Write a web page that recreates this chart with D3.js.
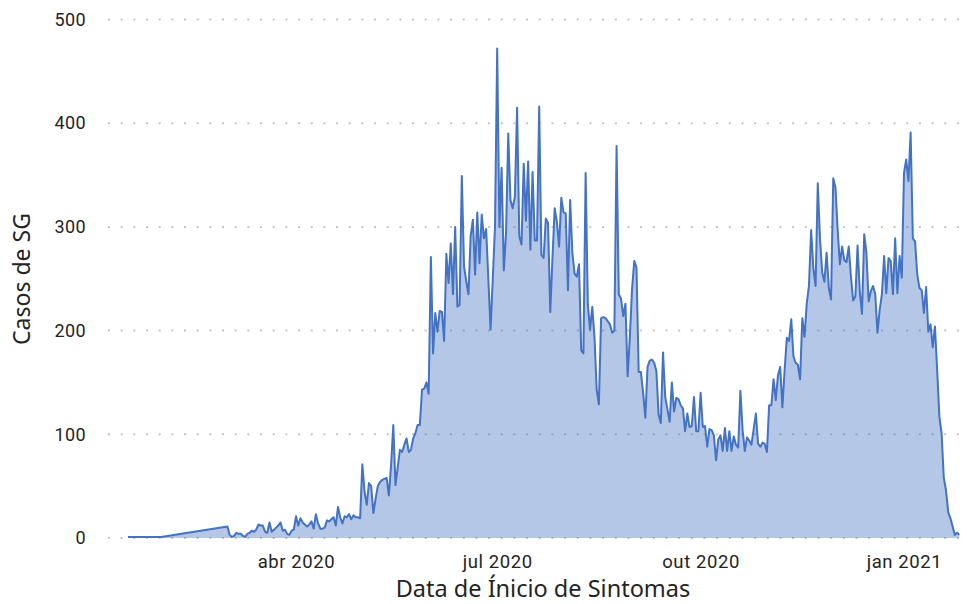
<!DOCTYPE html>
<html>
<head>
<meta charset="utf-8">
<script src="https://cdn.jsdelivr.net/npm/d3@7"></script>
<style>
  html, body { margin: 0; padding: 0; background: #fff; }
  svg { display: block; }
</style>
</head>
<body>
<svg id="chart" width="967" height="604"></svg>
<script>
// ---- Data ----
const earlyDates = ["2020-01-16", "2020-01-24", "2020-01-31"];
const earlyValues = [1, 1, 1];
const dailyStart = "2020-03-01";
const dailyValues = [
  11, 3, 1, 2, 5, 4, 4, 2, 1, 4, 5, 7, 6, 8, 13, 12, 12, 6, 5, 15,
  6, 8, 10, 12, 15, 7, 8, 4, 3, 7, 8, 21, 12, 19, 15, 13, 11, 13, 16, 9,
  23, 14, 9, 9, 10, 17, 16, 18, 20, 12, 30, 20, 14, 21, 20, 23, 18, 22, 20, 20,
  19, 71, 45, 32, 53, 50, 24, 38, 50, 54, 56, 57, 58, 41, 70, 109, 51, 68, 85, 83,
  90, 96, 83, 85, 96, 101, 109, 109, 143, 144, 150, 139, 271, 178, 217, 199, 219, 218, 190, 274,
  246, 284, 235, 300, 223, 225, 349, 262, 248, 235, 291, 307, 254, 314, 265, 312, 289, 298, 250, 201,
  250, 300, 472, 300, 357, 258, 294, 390, 326, 318, 329, 415, 291, 283, 361, 306, 363, 278, 353, 287,
  287, 416, 273, 270, 308, 304, 218, 270, 318, 305, 281, 328, 314, 313, 239, 326, 275, 255, 252, 264,
  181, 178, 352, 225, 201, 223, 194, 143, 129, 212, 213, 212, 209, 206, 198, 200, 378, 235, 231, 214,
  226, 156, 194, 240, 267, 261, 160, 160, 140, 116, 165, 171, 172, 169, 161, 119, 111, 179, 136, 124,
  112, 150, 122, 135, 134, 128, 125, 103, 120, 107, 108, 136, 103, 103, 140, 107, 108, 88, 105, 104,
  99, 75, 95, 99, 84, 106, 84, 103, 84, 98, 90, 87, 142, 104, 84, 97, 94, 90, 105, 120,
  91, 88, 92, 91, 83, 128, 128, 153, 133, 157, 165, 126, 162, 193, 190, 211, 175, 169, 167, 153,
  212, 194, 226, 243, 297, 260, 243, 342, 289, 256, 247, 275, 241, 230, 347, 338, 297, 264, 281, 268,
  266, 281, 252, 229, 233, 282, 238, 216, 293, 275, 228, 238, 243, 235, 198, 220, 235, 272, 236, 270,
  267, 235, 289, 236, 272, 251, 352, 365, 344, 391, 289, 286, 254, 241, 239, 217, 242, 199, 206, 184,
  204, 162, 117, 101, 58, 46, 25, 19, 11, 3, 5, 3
];
const yTicks = [0, 100, 200, 300, 400, 500];
const xTickDates = ["2020-04-01", "2020-07-01", "2020-10-01", "2021-01-01"];
const xTickLabels = ["abr 2020", "jul 2020", "out 2020", "jan 2021"];
const xTitle = "Data de Ínicio de Sintomas";
const yTitle = "Casos de SG";

// ---- Build series ----
const parse = d3.utcParse("%Y-%m-%d");
const series = [];
earlyDates.forEach((d, i) => series.push({ date: parse(d), value: earlyValues[i] }));
const start = parse(dailyStart);
dailyValues.forEach((v, i) => series.push({ date: d3.utcDay.offset(start, i), value: v }));

// ---- Layout ----
const svg = d3.select("#chart");
const gridLeft = 108, gridRight = 960;
const pxPerDay = (904 - 296) / 275;
const xStartDate = parse("2020-01-05");
const xEndDate = parse("2021-01-28");
const xStartPx = 296 - d3.utcDay.count(xStartDate, parse("2020-04-01")) * pxPerDay;
const xEndPx = 296 + d3.utcDay.count(parse("2020-04-01"), xEndDate) * pxPerDay;

const x = d3.scaleUtc().domain([xStartDate, xEndDate]).range([xStartPx, xEndPx]);
const y = d3.scaleLinear().domain([0, 500]).range([538, 19.5]);

const fontTick = "Roboto, 'Noto Sans', sans-serif";
const fontTitle = "'Noto Sans', 'Open Sans', sans-serif";

// gridlines
svg.append("g").selectAll("line").data(yTicks).join("line")
  .attr("x1", gridLeft).attr("x2", gridRight)
  .attr("y1", d => y(d)).attr("y2", d => y(d))
  .attr("stroke", "#c4c4c4").attr("stroke-width", 2)
  .attr("stroke-dasharray", "2 10.67");

// y axis labels
const yAxis = d3.axisLeft(y).tickValues(yTicks).tickSize(0).tickPadding(0);
const gy = svg.append("g").attr("transform", "translate(86,0)").call(yAxis);
gy.select(".domain").remove();
gy.selectAll("text").attr("font-family", fontTick).attr("font-size", 18)
  .attr("letter-spacing", 0.4).attr("fill", "#252423");

// x axis labels
const xAxis = d3.axisBottom(x).tickValues(xTickDates.map(parse))
  .tickFormat((d, i) => xTickLabels[i]).tickSize(0).tickPadding(0);
const gx = svg.append("g").attr("transform", "translate(0,555)").call(xAxis);
gx.select(".domain").remove();
gx.selectAll("text").attr("font-family", fontTick).attr("font-size", 18.5)
  .attr("letter-spacing", 0.6).attr("fill", "#252423");

// area + line
const area = d3.area().x(d => x(d.date)).y0(y(0)).y1(d => y(d.value));
const line = d3.line().x(d => x(d.date)).y(d => y(d.value));
svg.append("path").datum(series).attr("d", area)
  .attr("fill", "#4472C4").attr("fill-opacity", 0.4);
svg.append("path").datum(series).attr("d", line)
  .attr("fill", "none").attr("stroke", "#4472C4").attr("stroke-width", 2)
  .attr("stroke-linejoin", "round");

// titles
svg.append("text").attr("x", 543).attr("y", 597).attr("text-anchor", "middle")
  .attr("font-family", fontTitle).attr("font-size", 23.5).attr("fill", "#252423")
  .text(xTitle);
svg.append("text").attr("transform", "translate(30,279) rotate(-90)")
  .attr("text-anchor", "middle")
  .attr("font-family", fontTitle).attr("font-size", 23).attr("fill", "#252423")
  .text(yTitle);
</script>
</body>
</html>
